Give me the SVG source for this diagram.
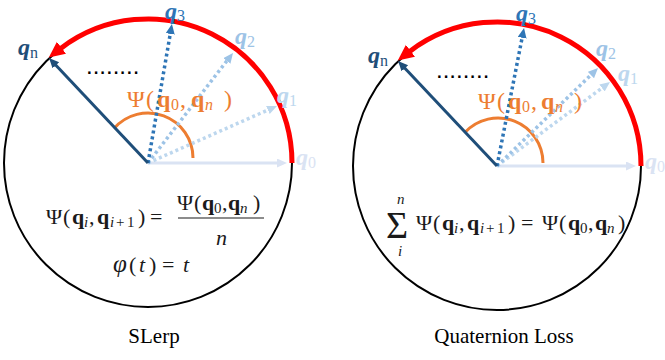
<svg xmlns="http://www.w3.org/2000/svg" width="665" height="360" viewBox="0 0 665 360">
<style>
.circ{fill:none;stroke:#000;stroke-width:2}
.red{fill:none;stroke:#FF0000;stroke-width:5;marker-end:url(#mRed)}
.ang{fill:none;stroke:#ED7D31;stroke-width:3}
.v{fill:none;stroke-width:3}
.dot{stroke-dasharray:3 3;stroke-width:3.5}
.lbl{font-family:"Liberation Serif",serif;font-weight:bold;font-style:italic;font-size:24px}
.sub{font-size:16px;font-weight:normal;font-style:normal}
.m{font-family:"Liberation Serif",serif;font-size:22px;fill:#1a1a1a}
.b{font-weight:bold}
.it{font-style:italic}
.s{font-size:15px}
.ol{font-family:"Liberation Serif",serif;font-size:24px;fill:#ED7D31}
.os{font-size:16px}
.cap{font-family:"Liberation Serif",serif;font-size:21px;fill:#000;text-anchor:middle}
.dots{font-family:"Liberation Sans",sans-serif;font-size:24px;fill:#000}
.big{font-size:38px}
</style>
<defs>
<marker id="mRed" markerUnits="userSpaceOnUse" markerWidth="18" markerHeight="16" refX="1" refY="7.5" orient="auto"><path d="M0,0 L16,7.5 L0,15 z" fill="#FF0000"/></marker>
<marker id="m0" markerUnits="userSpaceOnUse" markerWidth="12" markerHeight="10" refX="2" refY="4.5" orient="auto"><path d="M0,0 L10,4.5 L0,9 z" fill="#DAE3F3"/></marker>
<marker id="m1" markerUnits="userSpaceOnUse" markerWidth="12" markerHeight="10" refX="2" refY="4.5" orient="auto"><path d="M0,0 L10,4.5 L0,9 z" fill="#BDD7EE"/></marker>
<marker id="m2" markerUnits="userSpaceOnUse" markerWidth="12" markerHeight="10" refX="2" refY="4.5" orient="auto"><path d="M0,0 L10,4.5 L0,9 z" fill="#9DC3E6"/></marker>
<marker id="m3" markerUnits="userSpaceOnUse" markerWidth="12" markerHeight="10" refX="2" refY="4.5" orient="auto"><path d="M0,0 L10,4.5 L0,9 z" fill="#2E75B6"/></marker>
<marker id="mn" markerUnits="userSpaceOnUse" markerWidth="12" markerHeight="10" refX="2" refY="4.5" orient="auto"><path d="M0,0 L10,4.5 L0,9 z" fill="#1F4E79"/></marker>
</defs>

<!-- Left panel: SLerp -->
<g id="slerp">
  <circle class="circ" cx="148" cy="163" r="144"/>
  <path class="red" d="M292 163 A144 144 0 0 0 60.7 48.4"/>
  <path class="ang" d="M193 158 A45 45 0 0 0 114 128.5"/>
  <g id="slerp-vectors">
    <line class="v" x1="148" y1="163" x2="279" y2="163" stroke="#DAE3F3" marker-end="url(#m0)"/>
    <line class="v dot" x1="148" y1="163" x2="269.7" y2="109.2" stroke="#BDD7EE" marker-end="url(#m1)"/>
    <line class="v dot" x1="148" y1="163" x2="228.1" y2="59.3" stroke="#9DC3E6" marker-end="url(#m2)"/>
    <line class="v dot" x1="148" y1="163" x2="170.6" y2="31.9" stroke="#2E75B6" marker-end="url(#m3)"/>
    <line class="v" x1="148" y1="163" x2="54.5" y2="63.8" stroke="#1F4E79" marker-end="url(#mn)"/>
  </g>
  <text class="lbl" x="296" y="165" fill="#DAE3F3">q<tspan class="sub" dy="3">0</tspan></text>
  <text class="lbl" x="277" y="103" fill="#BDD7EE">q<tspan class="sub" dy="3">1</tspan></text>
  <text class="lbl" x="235" y="44" fill="#9DC3E6">q<tspan class="sub" dy="3">2</tspan></text>
  <text class="lbl" x="165" y="19" fill="#2E75B6">q<tspan class="sub" dy="2">3</tspan></text>
  <text class="lbl" x="18" y="55" fill="#1F4E79">q<tspan class="sub" dy="3" font-style="italic">n</tspan></text>
  <text class="dots" x="86" y="74">........</text>
  <text class="ol" y="107"><tspan x="127">Ψ</tspan><tspan x="146">(</tspan><tspan x="157" font-weight="bold">q</tspan><tspan x="171" class="os" dy="3">0</tspan><tspan x="180" dy="-3">,</tspan><tspan x="191" font-weight="bold">q</tspan><tspan x="205" class="os" dy="3" font-style="italic">n</tspan><tspan x="224" dy="-3">)</tspan></text>
  <text class="m" y="224"><tspan x="46">Ψ</tspan><tspan x="63">(</tspan><tspan x="72" class="b">q</tspan><tspan x="84" class="s it" dy="3">i</tspan><tspan x="89" dy="-3">,</tspan><tspan x="97" class="b">q</tspan><tspan x="110" class="s it" dy="3">i</tspan><tspan x="116" class="s">+</tspan><tspan x="127" class="s">1</tspan><tspan x="138" dy="-3">)</tspan><tspan x="150">=</tspan></text>
  <text class="m" y="210"><tspan x="177">Ψ</tspan><tspan x="194">(</tspan><tspan x="202" class="b">q</tspan><tspan x="214" class="s" dy="3">0</tspan><tspan x="222" dy="-3">,</tspan><tspan x="228" class="b">q</tspan><tspan x="240" class="s it" dy="3">n</tspan><tspan x="253" dy="-3">)</tspan></text>
  <line x1="178" y1="218" x2="264" y2="218" stroke="#1a1a1a" stroke-width="1.2"/>
  <text class="m it" x="216" y="245">n</text>
  <text class="m" y="272"><tspan x="113" class="it" style="font-size:25px">φ</tspan><tspan x="129">(</tspan><tspan x="139" class="it">t</tspan><tspan x="149">)</tspan><tspan x="162">=</tspan><tspan x="183" class="it">t</tspan></text>
  <text class="cap" x="154" y="343">SLerp</text>
</g>

<!-- Right panel: Quaternion Loss -->
<g id="quaternion-loss">
  <circle class="circ" cx="497" cy="166" r="144"/>
  <path class="red" d="M641 166 A144 144 0 0 0 409.7 51.4"/>
  <path class="ang" d="M543 163 A45 45 0 0 0 465.1 132.3"/>
  <g id="quaternion-loss-vectors">
    <line class="v" x1="497" y1="166" x2="628" y2="166" stroke="#DAE3F3" marker-end="url(#m0)"/>
    <line class="v dot" x1="497" y1="166" x2="603.6" y2="86.8" stroke="#BDD7EE" marker-end="url(#m1)"/>
    <line class="v dot" x1="497" y1="166" x2="592.3" y2="73.6" stroke="#9DC3E6" marker-end="url(#m2)"/>
    <line class="v dot" x1="497" y1="166" x2="522.5" y2="35.8" stroke="#2E75B6" marker-end="url(#m3)"/>
    <line class="v" x1="497" y1="166" x2="403.5" y2="66.8" stroke="#1F4E79" marker-end="url(#mn)"/>
  </g>
  <text class="lbl" x="645" y="169" fill="#DAE3F3">q<tspan class="sub" dy="3">0</tspan></text>
  <text class="lbl" x="618" y="81" fill="#BDD7EE">q<tspan class="sub" dy="3">1</tspan></text>
  <text class="lbl" x="596" y="56" fill="#9DC3E6">q<tspan class="sub" dy="3">2</tspan></text>
  <text class="lbl" x="516" y="21" fill="#2E75B6">q<tspan class="sub" dy="3">3</tspan></text>
  <text class="lbl" x="368" y="63" fill="#1F4E79">q<tspan class="sub" dy="3" font-style="italic">n</tspan></text>
  <text class="dots" x="436" y="78">........</text>
  <text class="ol" y="109"><tspan x="478">Ψ</tspan><tspan x="497">(</tspan><tspan x="508" font-weight="bold">q</tspan><tspan x="522" class="os" dy="3">0</tspan><tspan x="531" dy="-3">,</tspan><tspan x="541" font-weight="bold">q</tspan><tspan x="555" class="os" dy="3" font-style="italic">n</tspan><tspan x="574" dy="-3">)</tspan></text>
  <text class="m big" x="386" y="238">Σ</text>
  <text class="m it s" x="397" y="204">n</text>
  <text class="m it s" x="398" y="256">i</text>
  <text class="m" y="230"><tspan x="416">Ψ</tspan><tspan x="433">(</tspan><tspan x="442" class="b">q</tspan><tspan x="454" class="s it" dy="3">i</tspan><tspan x="459" dy="-3">,</tspan><tspan x="467" class="b">q</tspan><tspan x="480" class="s it" dy="3">i</tspan><tspan x="486" class="s">+</tspan><tspan x="497" class="s">1</tspan><tspan x="508" dy="-3">)</tspan><tspan x="521">=</tspan><tspan x="542">Ψ</tspan><tspan x="559">(</tspan><tspan x="568" class="b">q</tspan><tspan x="580" class="s" dy="3">0</tspan><tspan x="588" dy="-3">,</tspan><tspan x="595" class="b">q</tspan><tspan x="607" class="s it" dy="3">n</tspan><tspan x="618" dy="-3">)</tspan></text>
  <text class="cap" x="504" y="343">Quaternion Loss</text>
</g>
</svg>
